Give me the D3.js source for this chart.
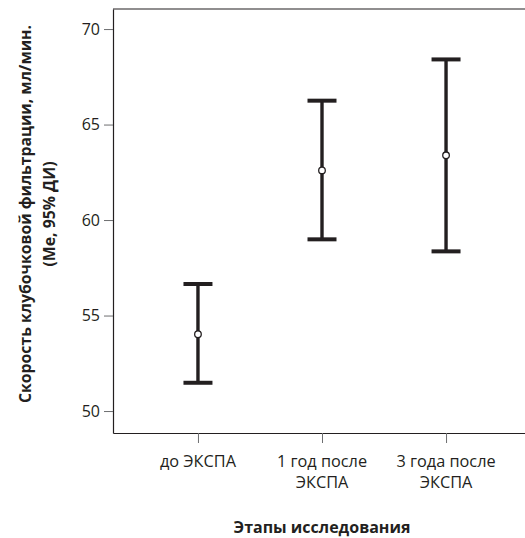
<!DOCTYPE html>
<html>
<head>
<meta charset="utf-8">
<script src="https://cdn.jsdelivr.net/npm/d3@7"></script>
<style>
  body { margin: 0; background: #fff; }
  text { font-family: "Open Sans", "Noto Sans", sans-serif; fill: #231f20; }
</style>
</head>
<body>
<svg width="525" height="538"></svg>
<script>
// stages and CI values (median, lower, upper)
var stages = ['до ЭКСПА', '1 год после|ЭКСПА', '3 года после|ЭКСПА'];
var medians = [54.02, 62.6, 63.39];
var lower = [51.48, 58.99, 58.36];
var upper = [56.65, 66.25, 68.41];
var yTicks = [50, 55, 60, 65, 70];

var svg = d3.select('svg');
var mLeft = 113, mRight = 531, mTop = 9, mBottom = 433;

var x = d3.scalePoint()
    .domain(stages)
    .range([mLeft, mRight])
    .padding(0.685);

var y = d3.scaleLinear()
    .domain([48.85, 71.05])
    .range([mBottom, mTop]);

// frame
svg.append('line')
    .attr('x1', mLeft).attr('x2', 525).attr('y1', mTop).attr('y2', mTop)
    .attr('stroke', '#231f20').attr('stroke-width', 1.2);

// y axis
var gy = svg.append('g')
    .attr('transform', 'translate(' + mLeft + ',0)')
    .call(d3.axisLeft(y).tickValues(yTicks).tickSize(9).tickPadding(4).tickSizeOuter(0));
gy.select('.domain').attr('stroke', '#231f20').attr('stroke-width', 1.2);
gy.selectAll('.tick line').attr('stroke', '#6d6e70');
gy.selectAll('.tick text').style('font-size', '16px').attr('fill', '#231f20');

// x axis
var gx = svg.append('g')
    .attr('transform', 'translate(0,' + mBottom + ')')
    .call(d3.axisBottom(x).tickSize(10).tickSizeOuter(0).tickFormat(''));
gx.select('.domain').attr('stroke', '#231f20').attr('stroke-width', 1.2);
gx.selectAll('.tick line').attr('stroke', '#6d6e70');

// multi-line category labels, one text per line
stages.forEach(function(s) {
  s.split('|').forEach(function(l, i) {
    svg.append('text')
      .attr('x', x(s))
      .attr('y', 467 + i * 21)
      .attr('text-anchor', 'middle')
      .style('font-size', '16.3px')
      .text(l);
  });
});

// error bars
var data = stages.map(function(s, i) {
  return {stage: s, me: medians[i], lo: lower[i], hi: upper[i]};
});
var capW = 29;

var bars = svg.append('g').selectAll('g')
    .data(data)
    .enter().append('g');

bars.append('line')
    .attr('x1', function(d) { return x(d.stage); })
    .attr('x2', function(d) { return x(d.stage); })
    .attr('y1', function(d) { return y(d.lo); })
    .attr('y2', function(d) { return y(d.hi); })
    .attr('stroke', '#231f20').attr('stroke-width', 3.4);

bars.selectAll('.cap')
    .data(function(d) { return [{s: d.stage, v: d.lo}, {s: d.stage, v: d.hi}]; })
    .enter().append('line')
    .attr('class', 'cap')
    .attr('x1', function(d) { return x(d.s) - capW / 2; })
    .attr('x2', function(d) { return x(d.s) + capW / 2; })
    .attr('y1', function(d) { return y(d.v); })
    .attr('y2', function(d) { return y(d.v); })
    .attr('stroke', '#231f20').attr('stroke-width', 4);

bars.append('circle')
    .attr('cx', function(d) { return x(d.stage); })
    .attr('cy', function(d) { return y(d.me); })
    .attr('r', 3.3)
    .attr('fill', '#fff')
    .attr('stroke', '#231f20').attr('stroke-width', 1.3);

// axis titles
svg.append('text')
    .attr('x', (x(stages[0]) + x(stages[2])) / 2)
    .attr('y', 533)
    .attr('text-anchor', 'middle')
    .style('font-size', '16px').style('font-weight', 'bold')
    .text('Этапы исследования');

var yt = svg.append('text')
    .attr('transform', 'translate(0,214) rotate(-90)')
    .attr('text-anchor', 'middle')
    .style('font-size', '15.8px').style('font-weight', 'bold');
yt.append('tspan').attr('x', 0).attr('y', 31).text('Скорость клубочковой фильтрации, мл/мин.');
yt.append('tspan').attr('x', 0).attr('y', 55).text('(Me, 95% ДИ)');
</script>
</body>
</html>
